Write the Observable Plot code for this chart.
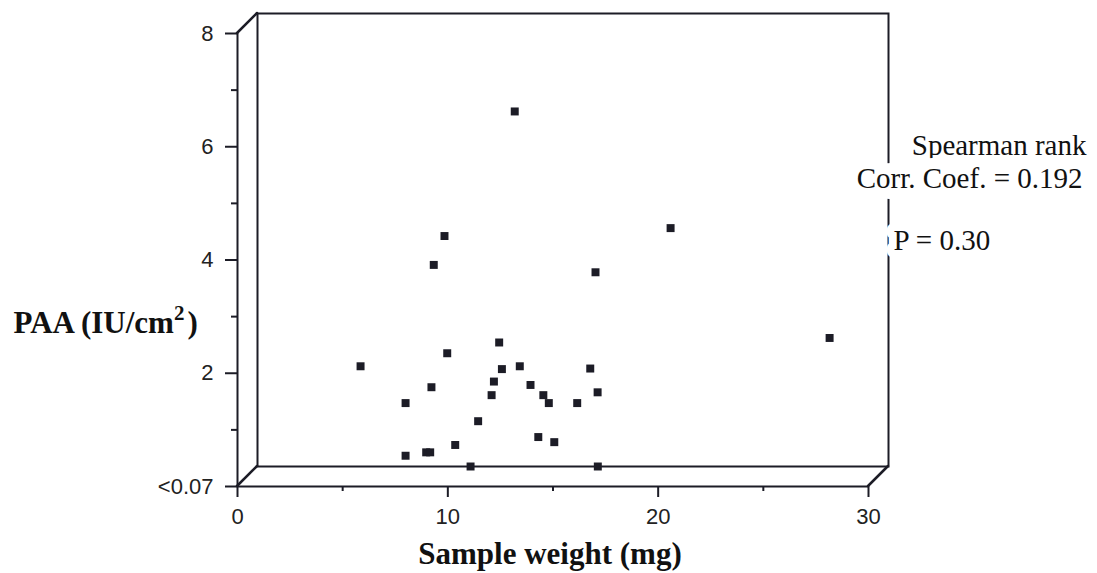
<!DOCTYPE html>
<html>
<head>
<meta charset="utf-8">
<script src="https://cdn.jsdelivr.net/npm/d3@7"></script>
<script src="https://cdn.jsdelivr.net/npm/@observablehq/plot@0.6"></script>
<style>
  html, body { margin: 0; padding: 0; background: #fff; }
  #chart svg { display: block; }
</style>
</head>
<body>
<div id="chart"></div>
<script>
// Sample weight (mg) against plasminogen activator activity (IU/cm²), one entry per sample.
// Activities below detection ("<0.07") are stored as 0.
const sampleWeight = [4.90, 7.04, 7.04, 8.02, 8.21, 8.27, 8.38, 8.89, 9.02, 9.40,
                      10.13, 10.49, 11.13, 11.24, 11.49, 11.62, 12.23, 12.47, 12.98, 13.35,
                      13.59, 13.85, 14.11, 15.20, 15.82, 16.07, 16.17, 16.18, 19.64, 27.20];
const paaActivity  = [1.77, 1.12, 0.19, 0.25, 0.25, 1.40, 3.56, 4.07, 2.00, 0.38,
                      0, 0.80, 1.26, 1.50, 2.19, 1.72, 6.27, 1.77, 1.44, 0.52,
                      1.26, 1.12, 0.43, 1.12, 1.73, 3.43, 1.31, 0, 4.21, 2.27];

const xMajorTicks = [0, 10, 20, 30];
const xMinorTicks = [5, 15, 25];
const yMajorTicks = [0, 2, 4, 6, 8];
const yTickLabels = ["<0.07", "2", "4", "6", "8"];
const yMinorTicks = [1, 3, 5, 7];

const xTitle = "Sample weight (mg)";
const yTitle = ["PAA (IU/cm", "2", ")"];
const statTitle = "Spearman rank";
const statCoef = "Corr. Coef. = 0.192";
const statP = "P = 0.30";

const samples = sampleWeight.map((w, i) => ({weight: w, paa: paaActivity[i]}));

// Look of the pseudo-3D box: the points sit on a back wall offset up and right.
const INK = "#1c1c26";
const DEPTH = 20;
const SERIF = "'Liberation Serif', 'Times New Roman', Times, serif";
const SANS = "'Liberation Sans', Arial, Helvetica, sans-serif";

const chart = Plot.plot({
  width: 1097,
  height: 573,
  marginLeft: 237,
  marginRight: 229,
  marginTop: 33,
  marginBottom: 87,
  x: {domain: [0, 30]},
  y: {domain: [0, 8]},
  style: {background: "#fff", color: INK, fontFamily: SANS, fontSize: "22px", overflow: "visible"},
  marks: [
    // samples on the back wall
    Plot.dot(samples, {x: "weight", y: "paa", symbol: "square", r: 4.5, fill: INK, stroke: null, dx: DEPTH, dy: -DEPTH}),
    // back wall outline
    Plot.frame({stroke: INK, strokeWidth: 2, dx: DEPTH, dy: -DEPTH}),
    // front axis lines
    Plot.ruleX([0], {stroke: INK, strokeWidth: 2}),
    Plot.ruleY([0], {stroke: INK, strokeWidth: 2}),
    // y axis
    Plot.axisY(yMajorTicks, {
      anchor: "left", tickSize: 12, tickPadding: 12, strokeWidth: 2, label: null,
      tickFormat: d => yTickLabels[yMajorTicks.indexOf(d)], fill: "#222"
    }),
    Plot.axisY(yMinorTicks, {anchor: "left", tickSize: 6, strokeWidth: 2, label: null, fill: "none"}),
    // x axis
    Plot.axisX(xMajorTicks, {
      anchor: "bottom", tickSize: 11, tickPadding: 11, strokeWidth: 2, label: null,
      tickFormat: d => String(d), fill: "#222"
    }),
    Plot.axisX(xMinorTicks, {anchor: "bottom", tickSize: 5, strokeWidth: 2, label: null, fill: "none"}),
    // axis titles
    Plot.text([xTitle], {
      frameAnchor: "bottom", dx: -3, dy: 77, lineAnchor: "bottom",
      fontFamily: SERIF, fontWeight: "bold", fontSize: 31, fill: "#111"
    }),
    Plot.text([yTitle.join("")], {
      frameAnchor: "left", textAnchor: "start", dx: -224, dy: 73, lineAnchor: "bottom",
      fontFamily: SERIF, fontWeight: "bold", fontSize: 31, fill: "#111"
    }),
    // correlation statistics
    Plot.text([statTitle], {
      frameAnchor: "top-right", textAnchor: "end", dx: 218, dy: 121, lineAnchor: "bottom",
      fontFamily: SERIF, fontSize: 29, fill: "#111"
    }),
    Plot.text([statCoef], {
      frameAnchor: "top-right", textAnchor: "end", dx: 214, dy: 154, lineAnchor: "bottom",
      fontFamily: SERIF, fontSize: 29, fill: "#111", stroke: "#fff", strokeWidth: 22
    }),
    Plot.text([statP], {
      frameAnchor: "top-right", textAnchor: "start", dx: 25, dy: 216, lineAnchor: "bottom",
      fontFamily: SERIF, fontSize: 29, fill: "#111", stroke: "#fff", strokeWidth: 16
    })
  ]
});

// Raised superscript in the y title
const yTitleText = d3.select(chart).selectAll("text")
  .filter(function() { return this.textContent === yTitle.join(""); });
yTitleText.text(yTitle[0]);
yTitleText.append("tspan").attr("font-size", 21).attr("dy", -13).text(yTitle[1]);
yTitleText.append("tspan").attr("dx", 3).attr("dy", 13).text(yTitle[2]);

// Depth edges joining the front axes to the back wall corners
const sx = chart.scale("x"), sy = chart.scale("y");
const corners = [[0, 8], [0, 0], [30, 0]];
d3.select(chart).append("g")
  .attr("stroke", INK).attr("stroke-width", 2.5).attr("stroke-linecap", "round")
  .selectAll("line").data(corners).join("line")
  .attr("x1", d => sx.apply(d[0])).attr("y1", d => sy.apply(d[1]))
  .attr("x2", d => sx.apply(d[0]) + DEPTH).attr("y2", d => sy.apply(d[1]) - DEPTH);

document.getElementById("chart").append(chart);
</script>
</body>
</html>
